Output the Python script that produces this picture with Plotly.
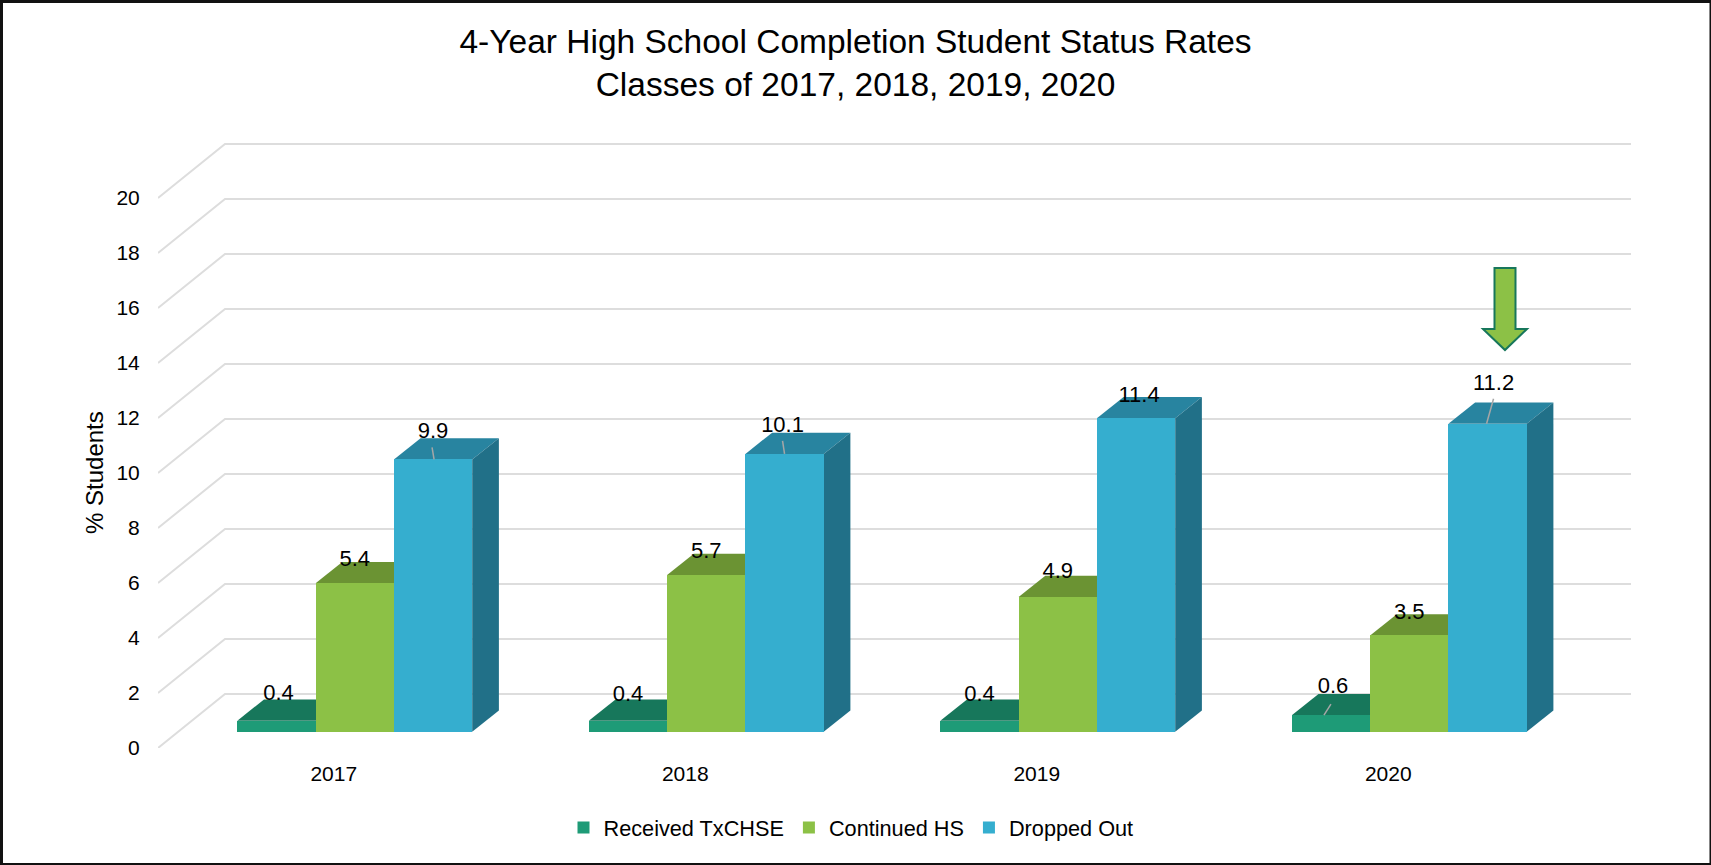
import plotly.graph_objects as go

TITLE = "4-Year High School Completion Student Status Rates<br>Classes of 2017, 2018, 2019, 2020"
Y_TITLE = "% Students"
YEARS = [2017, 2018, 2019, 2020]
Y_TICKS = list(range(0, 21, 2))

RECEIVED = [0.4, 0.4, 0.4, 0.6]
CONTINUED = [5.4, 5.7, 4.9, 3.5]
DROPPED = [9.9, 10.1, 11.4, 11.2]

# Chart geometry, in pixels of the 1711x865 page
PAGE_W, PAGE_H = 1711, 865
PLOT_L, PLOT_R, PLOT_T, PLOT_B = 158, 1631, 143, 748
PX_PER_YEAR = 351.5
PX_PER_UNIT = 27.5
X_MIN = 2016.5
X_MAX = X_MIN + (PLOT_R - PLOT_L) / PX_PER_YEAR
Y_MAX = (PLOT_B - PLOT_T) / PX_PER_UNIT

def xlen(px):
    return px / PX_PER_YEAR

def ylen(px):
    return px / PX_PER_UNIT

def xp(px):
    return (px - PLOT_L) / (PLOT_R - PLOT_L)

def yp(py):
    return (PLOT_B - py) / (PLOT_B - PLOT_T)

WALL_DX, WALL_DY = xlen(67), ylen(54)
BAR_DX, BAR_DY = xlen(26.7), ylen(21.3)
BAR_BASE = ylen(16.3)
BAR_W = xlen(78.3)
GROUP_SHIFT = xlen(21)

GRID = "#DDDDDD"
SERIES = [
    ("Received TxCHSE", RECEIVED, "#1E9B77", "#17775B", "#17775B", -1),
    ("Continued HS", CONTINUED, "#8CC146", "#6B9333", "#6B9333", 0),
    ("Dropped Out", DROPPED, "#35AECF", "#2884A0", "#217088", 1),
]

def poly(points, fill):
    path = "M" + " L".join(f"{x:.5f},{y:.5f}" for x, y in points) + " Z"
    return dict(type="path", path=path, xref="x", yref="y", layer="below",
                fillcolor=fill, line=dict(width=0))

shapes = []
for v in Y_TICKS:
    path = (f"M{X_MIN},{v} L{X_MIN + WALL_DX:.5f},{v + WALL_DY:.5f} "
            f"L{X_MAX},{v + WALL_DY:.5f}")
    shapes.append(dict(type="path", path=path, xref="x", yref="y", layer="below",
                       line=dict(color=GRID, width=2)))

fig = go.Figure()
for name, values, front, top, side, slot in SERIES:
    offset = GROUP_SHIFT + (slot - 0.5) * BAR_W
    fig.add_trace(go.Bar(
        x=YEARS, y=values, base=BAR_BASE, name=name, width=BAR_W, offset=offset,
        marker=dict(color=front, line=dict(width=0)), hoverinfo="x+name+text",
        hovertext=[str(v) for v in values],
    ))
    for yr, v in zip(YEARS, values):
        x0, x1 = yr + offset, yr + offset + BAR_W
        y0, y1 = BAR_BASE, BAR_BASE + v
        shapes.append(poly([(x0, y1), (x1, y1), (x1 + BAR_DX, y1 + BAR_DY),
                            (x0 + BAR_DX, y1 + BAR_DY)], top))
        shapes.append(poly([(x1, y0), (x1 + BAR_DX, y0 + BAR_DY),
                            (x1 + BAR_DX, y1 + BAR_DY), (x1, y1)], side))

# Data labels: pixel offset of each label from the bar's front-top centre
LABEL_OFFSETS = {
    "Received TxCHSE": [(2, 26), (0, 25), (0, 25), (2, 28)],
    "Continued HS": [(0, 23), (0, 22), (0, 24), (0, 22)],
    "Dropped Out": [(0, 27), (-2, 27), (3, 22), (6, 39)],
}
# Leader lines: (series, year index, start offset, end offset) in pixels
LEADERS = [
    ("Received TxCHSE", 3, (-7, 0), (0, 11)),
    ("Dropped Out", 0, (1, 0), (-1, 12)),
    ("Dropped Out", 1, (0, 0), (-2, 13)),
    ("Dropped Out", 3, (-1, 0), (6, 25)),
]

for name, values, front, top, side, slot in SERIES:
    offset = GROUP_SHIFT + (slot - 0.5) * BAR_W
    cx = [yr + offset + BAR_W / 2 for yr in YEARS]
    tops = [BAR_BASE + v for v in values]
    offs = LABEL_OFFSETS[name]
    for sname, i, a, b in LEADERS:
        if sname == name:
            fig.add_trace(go.Scatter(
                x=[cx[i] + xlen(a[0]), cx[i] + xlen(b[0])],
                y=[tops[i] + ylen(a[1]), tops[i] + ylen(b[1])],
                mode="lines", line=dict(color="#A6A6A6", width=1.5),
                showlegend=False, hoverinfo="skip"))
    fig.add_trace(go.Scatter(
        x=[c + xlen(o[0]) for c, o in zip(cx, offs)],
        y=[t + ylen(o[1]) for t, o in zip(tops, offs)],
        mode="text", text=[f"{v:.1f}" for v in values],
        textposition="middle center",
        textfont=dict(size=22, color="#000000"),
        showlegend=False, hoverinfo="skip"))

# Arrow marking the 2020 dropout value
ax = [(1494.5, 268), (1515.5, 268), (1515.5, 329), (1527, 329), (1505, 350),
      (1483, 329), (1494.5, 329)]
shapes.append(dict(
    type="path", xref="paper", yref="paper", layer="above",
    path="M" + " L".join(f"{xp(x):.5f},{yp(y):.5f}" for x, y in ax) + " Z",
    fillcolor="#8CC146", line=dict(color="#17775B", width=2)))

# Page frame: heavier on the top and left edges, as in the source image
for x0, y0, x1, y1, w in [(1.5, 1.5, PAGE_W, 1.5, 3), (1.5, 0, 1.5, PAGE_H, 3),
                          (PAGE_W - 0.75, 0, PAGE_W - 0.75, PAGE_H, 1.5),
                          (0, PAGE_H - 1, PAGE_W, PAGE_H - 1, 2)]:
    shapes.append(dict(type="line", xref="paper", yref="paper", layer="above",
                       x0=xp(x0), x1=xp(x1), y0=yp(y0), y1=yp(y1),
                       line=dict(color="#111111", width=w)))

FONT = "Liberation Sans, Arial, sans-serif"
fig.update_layout(
    width=PAGE_W, height=PAGE_H,
    margin=dict(l=PLOT_L, r=PAGE_W - PLOT_R, t=PLOT_T, b=PAGE_H - PLOT_B, autoexpand=False),
    paper_bgcolor="#FFFFFF", plot_bgcolor="rgba(0,0,0,0)",
    font=dict(family=FONT, size=21, color="#000000"),
    barmode="overlay", bargap=0,
    shapes=shapes,
    title=dict(text=TITLE, x=855.5 / PAGE_W, xanchor="center", y=1 - 52.5 / PAGE_H,
               yanchor="middle", font=dict(size=33.5, color="#000000")),
    xaxis=dict(range=[X_MIN, X_MAX], tickvals=YEARS, ticktext=[str(y) for y in YEARS],
               ticks="outside", ticklen=6.5, tickcolor="rgba(0,0,0,0)", showgrid=False,
               zeroline=False, showline=False, tickfont=dict(size=21)),
    yaxis=dict(range=[0, Y_MAX], tickvals=Y_TICKS, ticks="outside", ticklen=13,
               tickcolor="rgba(0,0,0,0)", showgrid=False, zeroline=False, showline=False,
               tickfont=dict(size=21)),
    legend=dict(orientation="h", x=xp(563.5), xanchor="left", y=yp(828), yanchor="middle",
                font=dict(size=21.7), bgcolor="rgba(0,0,0,0)"),
    annotations=[dict(text=Y_TITLE, textangle=-90, xref="paper", yref="paper",
                      x=xp(94.5), y=yp(472.5), showarrow=False, font=dict(size=24),
                      xanchor="center", yanchor="middle")],
)

fig.write_html("out.html", post_script="document.body.style.margin='0';",
               config=dict(displayModeBar=False))
